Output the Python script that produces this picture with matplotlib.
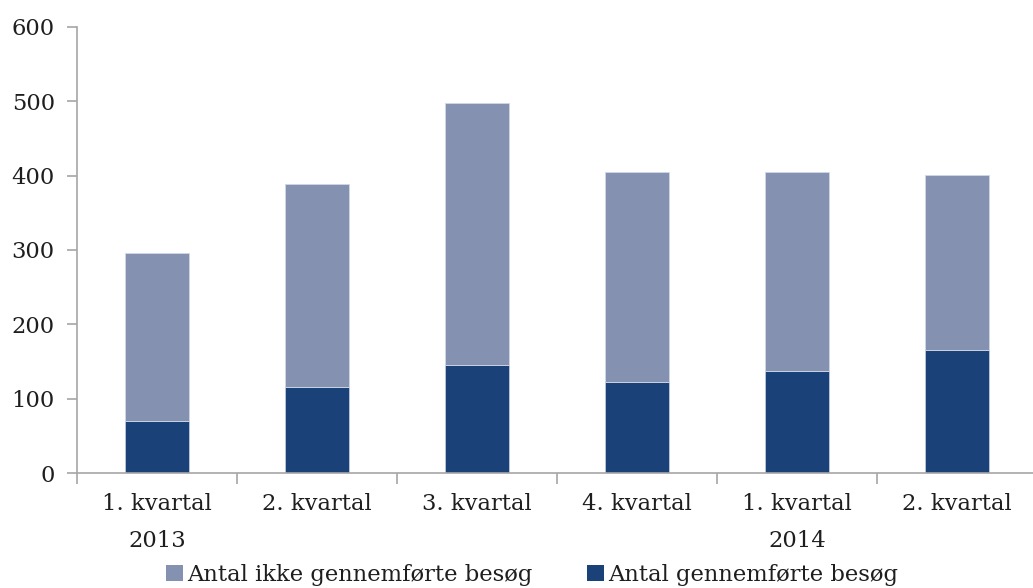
import matplotlib
matplotlib.use("Agg")
import matplotlib.pyplot as plt
from matplotlib.patches import Patch
import numpy as np

categories = ["1. kvartal\n2013", "2. kvartal", "3. kvartal", "4. kvartal", "1. kvartal\n2014", "2. kvartal"]
gennemfoerte = [70, 116, 146, 123, 137, 165]
ikke_gennemfoerte = [226, 272, 351, 282, 268, 236]
yticks = [0, 100, 200, 300, 400, 500, 600]

plt.rcParams['font.family'] = ['DejaVu Serif']
fs = 16.3

dark = "#1B4278"
light = "#8491B0"
axcol = "#A6A6A6"
txt = "#1E1E1E"

fig = plt.figure(figsize=(10.33, 5.88), dpi=100)
ax = fig.add_axes([77/1033, 1-473.3/588, 960/1033, (473.3-26.7)/588])

x = np.arange(len(categories))
ax.bar(x, gennemfoerte, width=0.4, color=dark, edgecolor="#C8D0E0", linewidth=0.5, zorder=2)
ax.bar(x, ikke_gennemfoerte, width=0.4, bottom=gennemfoerte, color=light, edgecolor="#D0D8E8", linewidth=0.6, zorder=2)

ax.set_xlim(-0.5, len(categories) - 0.5)
ax.set_ylim(0, 600)
ax.set_yticks(yticks)
ax.set_yticklabels([str(v) for v in yticks], fontsize=fs, color=txt)
ax.tick_params(axis='y', length=7, color=axcol, width=1.2, pad=9)

ax.set_xticks(x)
ax.set_xticklabels(categories, fontsize=fs, color=txt, linespacing=1.9, va='top')
ax.tick_params(axis='x', which='major', length=0, pad=14)
ax.set_xticks(np.arange(-0.5, len(categories) + 0.5, 1), minor=True)
ax.tick_params(axis='x', which='minor', length=8, color=axcol, width=1.2)

for s in ['top', 'right']:
    ax.spines[s].set_visible(False)
for s in ['left', 'bottom']:
    ax.spines[s].set_color(axcol)
    ax.spines[s].set_linewidth(1.2)

handles = [Patch(facecolor=light, edgecolor='none', label="Antal ikke gennemførte besøg"),
           Patch(facecolor=dark, edgecolor='none', label="Antal gennemførte besøg")]
fig.legend(handles=handles, loc='center', bbox_to_anchor=(0.515, 1-575/588), ncol=2,
           frameon=False, fontsize=fs, handlelength=0.75, handleheight=0.75,
           handletextpad=0.2, columnspacing=2.4, labelcolor=txt, borderpad=0)

fig.savefig("out.png", dpi=100)
